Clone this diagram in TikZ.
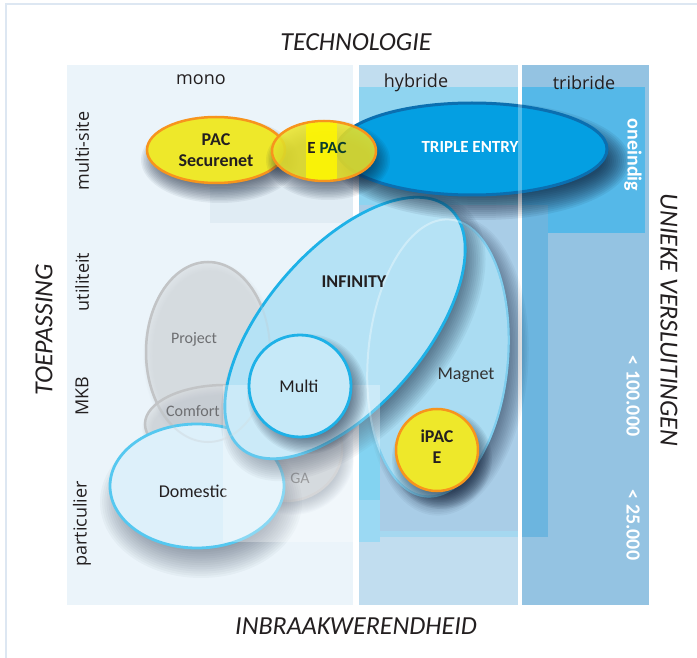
\documentclass[tikz,border=0pt]{standalone}
\usepackage{fontspec}
\setmainfont{Carlito}
\newfontfamily\osans{Open Sans}
\usetikzlibrary{shapes.geometric}
\definecolor{framec}{HTML}{DDE7F2}
\definecolor{monobg}{HTML}{EBF4FA}
\definecolor{hybbg}{HTML}{C1DDEF}
\definecolor{tribg}{HTML}{94C3E2}
\definecolor{hybhi}{HTML}{8FD4F0}
\definecolor{trihi}{HTML}{55B8E8}
\definecolor{midrect}{HTML}{A9CDE7}
\definecolor{tristrip}{HTML}{6CB5DF}
\definecolor{hstrip}{HTML}{4EC1EC}
\definecolor{hstripb}{HTML}{71C9EE}
\definecolor{hband}{HTML}{A5D8F0}
\definecolor{faint}{HTML}{E0ECF4}
\definecolor{yel}{HTML}{EEE82A}
\definecolor{brightyel}{HTML}{FFF700}
\definecolor{orng}{HTML}{F7941D}
\definecolor{tripfill}{HTML}{049FE2}
\definecolor{tripline}{HTML}{0B6FB0}
\definecolor{infline}{HTML}{1EB1E7}
\definecolor{inffill}{HTML}{B5E2F5}
\definecolor{magfill}{HTML}{AADCF2}
\definecolor{magline}{HTML}{3DB5E6}
\definecolor{grayfill}{HTML}{D9DDE0}
\definecolor{grayline}{HTML}{C2C4C6}
\definecolor{domline}{HTML}{55C8F0}
\definecolor{domfill}{HTML}{DDF0FA}
\definecolor{multifill}{HTML}{C6E9F8}
\definecolor{shcol}{HTML}{0A1830}
\definecolor{txt}{HTML}{231F20}
\definecolor{graytxt}{HTML}{6D6E71}
% soft shadow: centre x, centre y, x radius, y radius, rotation, blur, opacity per layer
\newcommand\softshadow[7]{%
  \foreach \k in {0,...,13}{%
    \pgfmathsetmacro\dd{#6*(1-\k/6.5)}%
    \pgfmathsetmacro\ax{#3+\dd}%
    \pgfmathsetmacro\ay{#4+\dd}%
    \fill[shcol, opacity=#7, rotate around={#5:(#1,#2)}] (#1,#2) ellipse [x radius=\ax pt, y radius=\ay pt];
  }}
\tikzset{
  ell/.style={ellipse, inner sep=0pt, outer sep=0pt},
  yelnode/.style={ell, fill=yel, draw=orng, line width=2.5pt},
  grayell/.style={ell, fill=grayfill, fill opacity=0.6, draw=grayline, line width=2.5pt},
  lbl/.style={font=\osans\fontsize{18}{20}\selectfont, text=txt, inner sep=0pt},
  axis/.style={font=\itshape\fontsize{26}{28}\selectfont, text=txt, inner sep=0pt},
  wlbl/.style={font=\bfseries\fontsize{20}{22}\selectfont, text=white, inner sep=0pt, rotate=-90},
  btxt/.style={font=\bfseries\fontsize{18}{21}\selectfont, text=txt, align=center, inner sep=0pt},
  ntxt/.style={font=\fontsize{18}{20}\selectfont, text=txt, inner sep=0pt},
  gtxt/.style={font=\fontsize{16}{18}\selectfont, text=graytxt, inner sep=0pt}
}
\begin{document}
\begin{tikzpicture}[x=1pt,y=-1pt]
\useasboundingbox (0,0) rectangle (697,658);
\fill[white] (0,0) rectangle (697,658);
% frame
\draw[framec, line width=2.5pt] (6,670) -- (6,4) -- (710,4);
% columns
\fill[monobg] (67,65) rectangle (353,605);
\fill[hybbg] (359,65) rectangle (518,605);
\fill[tribg] (522,65) rectangle (649,605);
\fill[hybhi] (359,87) rectangle (518,233);
\fill[trihi] (522,87) rectangle (645,233);
\fill[midrect] (359,205) rectangle (518,531);
\fill[hband] (359,531) rectangle (518,537);
\fill[tristrip] (522,205) rectangle (548,537);
\fill[hstrip] (359,290) rectangle (380,500);
\fill[hstripb] (359,500) rectangle (380,542);
\fill[faint] (210,187) rectangle (353,223);
% column labels
\node[lbl] (mono) at (201,80) {mono};
\node[lbl] (hyb) at (416,83) {hybride};
\node[lbl] (tri) at (584,83) {tribride};
% axis labels
\node[axis] (tech) at (356,42) {TECHNOLOGIE};
\node[axis] (inbr) at (356,626) {INBRAAKWERENDHEID};
\node[axis, rotate=90] (toep) at (44,330) {TOEPASSING};
\node[axis, rotate=-90] (uniek) at (669,320) {UNIEKE VERSLUITINGEN};
% row labels
\node[lbl, rotate=90] (r1) at (82,151) {multi-site};
\node[lbl, rotate=90] (r2) at (82,282) {utiliteit};
\node[lbl, rotate=90] (r3) at (82,396) {MKB};
\node[lbl, rotate=90] (r4) at (82,524) {particulier};
% gray ellipses
\softshadow{210}{356}{62}{90}{0}{5}{0.008}
\node[grayell, minimum width=124pt, minimum height=180pt] (proj) at (208,352) {};
\softshadow{227}{429}{80}{39}{0}{5}{0.01}
\node[grayell, minimum width=160pt, minimum height=78pt] (comf) at (225,424) {};
\softshadow{296}{460}{52}{47}{25}{7}{0.025}
\node[grayell, minimum width=104pt, minimum height=94pt, rotate=25] (ga) at (291,453) {};
\node[gtxt] (projt) at (194,339) {Project};
\node[gtxt] (comft) at (193,411) {Comfort};
\node[gtxt] (gat) at (300,478) {GA};
% Domestic
\softshadow{201}{502}{87}{62}{0}{14}{0.03}
\node[ell, fill=domfill, draw=domline, line width=2.8pt, minimum width=174pt, minimum height=124pt] (dom) at (197,486) {};
\node[ntxt] (domt) at (193,491) {Domestic};
% Magnet
\softshadow{447}{366}{70}{139}{-5}{11}{0.045}
\node[ell, fill=magfill, draw=magline, line width=2pt, minimum width=140pt, minimum height=278pt, rotate=-5] (magnet) at (438,358) {};
% INFINITY
\softshadow{353}{338}{159}{79}{49}{13}{0.05}
\node[ell, fill=inffill, draw=infline, line width=2.8pt, minimum width=318pt, minimum height=158pt, rotate=49] (inf) at (345,328) {};
% faint outlines seen through INFINITY
\node[ell, draw=white, draw opacity=0.35, line width=2pt, minimum width=140pt, minimum height=278pt, rotate=-5] (magghost) at (438,358) {};
\node[ell, draw=grayline, draw opacity=0.25, line width=2pt, minimum width=124pt, minimum height=180pt] (projghost) at (208,352) {};
\node[btxt] (inft) at (354,282) {INFINITY};
\node[ntxt, text=black!80] (magt) at (466,375) {Magnet};
% faint overlay box
\fill[white, opacity=0.3] (223,385) rectangle (380,542);
% Multi
\softshadow{307}{394}{51}{51}{0}{9}{0.05}
\node[ell, fill=multifill, draw=infline, line width=2.8pt, minimum width=102pt, minimum height=102pt] (multi) at (300,386) {};
\node[ntxt] (multit) at (299,386) {Multi};
% iPAC E
\softshadow{442}{459}{41}{41}{0}{9}{0.06}
\node[yelnode, minimum width=82pt, minimum height=82pt] (ipac) at (437,450) {};
\node[btxt] (ipact) at (437,447) {iPAC\\E};
% TRIPLE ENTRY
\softshadow{482}{161}{135}{46}{0}{13}{0.075}
\node[ell, fill=tripfill, draw=tripline, line width=3pt, minimum width=270pt, minimum height=92pt] (triple) at (472,149) {};
\node[btxt, text=white, font=\bfseries\fontsize{17}{20}\selectfont] (triplet) at (470,147) {TRIPLE ENTRY};
% PAC Securenet
\softshadow{220}{160}{69}{33}{0}{10}{0.06}
\node[yelnode, minimum width=138pt, minimum height=66pt] (pac) at (216,150) {};
\node[btxt] (pact) at (216,150) {PAC\\Securenet};
% E PAC
\softshadow{328}{160}{52}{30}{0}{10}{0.06}
\node[yelnode, fill opacity=0.85, minimum width=104pt, minimum height=60pt] (epac) at (324,151) {};
\begin{scope}
  \clip (324,151) ellipse [x radius=50.7pt, y radius=28.7pt];
  \fill[brightyel, opacity=0.85] (306,110) rectangle (337,195);
\end{scope}
\node[btxt, font=\bfseries\fontsize{17}{20}\selectfont] (epact) at (327,148) {E \textcolor[HTML]{0B3D2E}{PAC}};
% white gap over TRIPLE ENTRY
\fill[white, opacity=0.3] (518,65) rectangle (522,605);
% right labels
\node[wlbl] (one) at (633,155) {oneindig};
\node[wlbl] (h100) at (633,396) {< 100.000};
\node[wlbl] (h25) at (633,525) {< 25.000};
\end{tikzpicture}
\end{document}
